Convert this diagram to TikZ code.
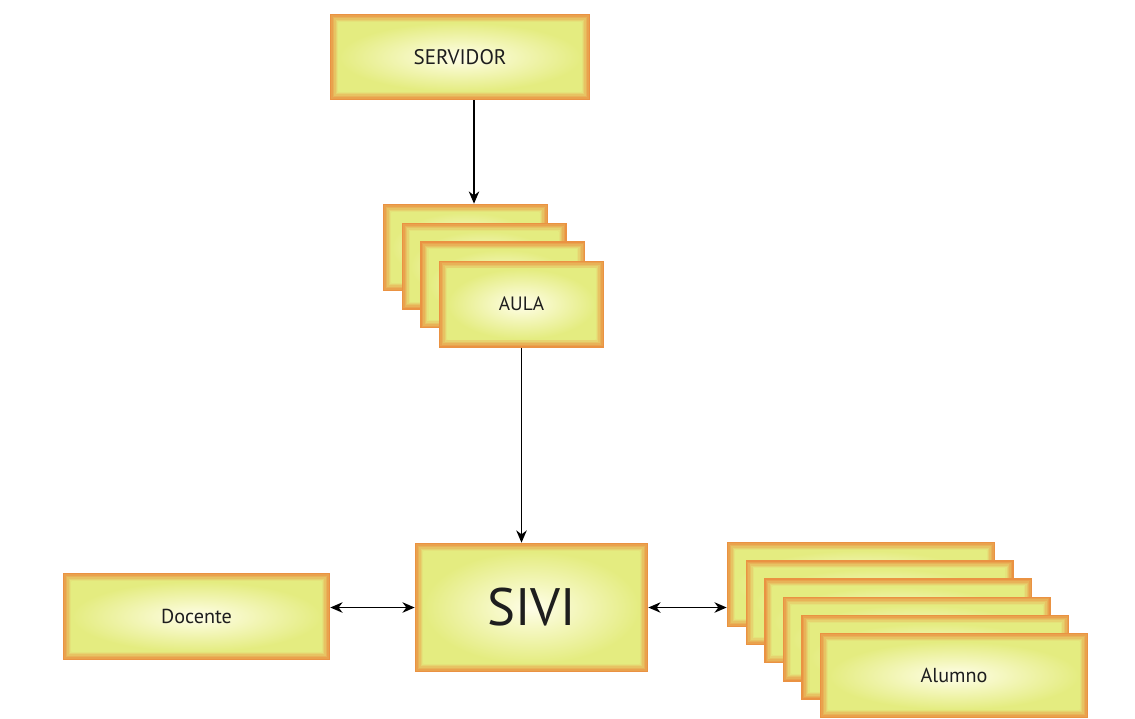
\documentclass[tikz,border=0pt]{standalone}
\usepackage{fontspec}
\setmainfont{PT Sans}
\usetikzlibrary{arrows.meta}

\definecolor{edgeorange}{RGB}{234,146,66}
\definecolor{boxgreen}{RGB}{228,236,128}
\definecolor{boxcentre}{RGB}{255,254,232}
\definecolor{labeltext}{RGB}{30,30,30}

\tikzset{
  glowbox/.style={
    fill=edgeorange, inner sep=0pt, text=labeltext,
    path picture={
      \foreach \k in {0,...,5}{
        \pgfmathsetmacro\mix{100-18*\k}
        \fill[edgeorange!\mix!boxgreen] ([shift={({\k*0.8pt},{\k*0.8pt})}]path picture bounding box.south west) rectangle ([shift={({-\k*0.8pt},{-\k*0.8pt})}]path picture bounding box.north east);
      }
      \shade[inner color=boxcentre, outer color=boxgreen] ([shift={(4.8pt,4.8pt)}]path picture bounding box.south west) rectangle ([shift={(-4.8pt,-4.8pt)}]path picture bounding box.north east);
    }},
  aulabox/.style={glowbox, minimum width=3.3cm, minimum height=1.74cm, font=\fontsize{11}{13}\selectfont},
  alumnobox/.style={glowbox, minimum width=5.36cm, minimum height=1.7cm, font=\fontsize{11.5}{13}\selectfont},
  link/.style={draw=black, line width=0.7pt}
}

\begin{document}
\begin{tikzpicture}[x=0.02cm, y=-0.02cm, >={Stealth[length=7pt,width=6pt]}]
  \useasboundingbox (0,0) rectangle (1135,718);

  % servidor
  \node[glowbox, minimum width=5.2cm, minimum height=1.72cm, font=\fontsize{12}{14}\selectfont] (srv) at (460,57) {SERVIDOR};

  % aulas
  \foreach \i in {1,2,3}
    \node[aulabox] (aula\i) at ({465.5+18.7*(\i-1)}, {247.5+18.7*(\i-1)}) {};
  \node[aulabox] (aula4) at (521.5,304) {AULA};

  % centre
  \node[glowbox, minimum width=4.66cm, minimum height=2.58cm, font=\fontsize{30}{34}\selectfont] (sivi) at (531.5,607.5) {SIVI};
  \node[glowbox, minimum width=5.34cm, minimum height=1.74cm, font=\fontsize{11.5}{13}\selectfont] (doc) at (196.5,616.5) {Docente};

  % alumnos
  \foreach \i in {1,...,5}
    \node[alumnobox] (alu\i) at ({861+18.6*(\i-1)}, {584.5+18.2*(\i-1)}) {};
  \node[alumnobox] (alu6) at (954,675.5) {Alumno};

  % links
  \draw[link,->] ([xshift=0.28cm]srv.south) -- ([xshift=0.28cm]srv.south |- aula1.north);
  \draw[link,->] (aula4.south) -- (aula4.south |- sivi.north);
  \draw[link,<->] (doc.east |- sivi.west) -- (sivi.west);
  \draw[link,<->] (sivi.east) -- (sivi.east -| alu1.west);
\end{tikzpicture}
\end{document}
